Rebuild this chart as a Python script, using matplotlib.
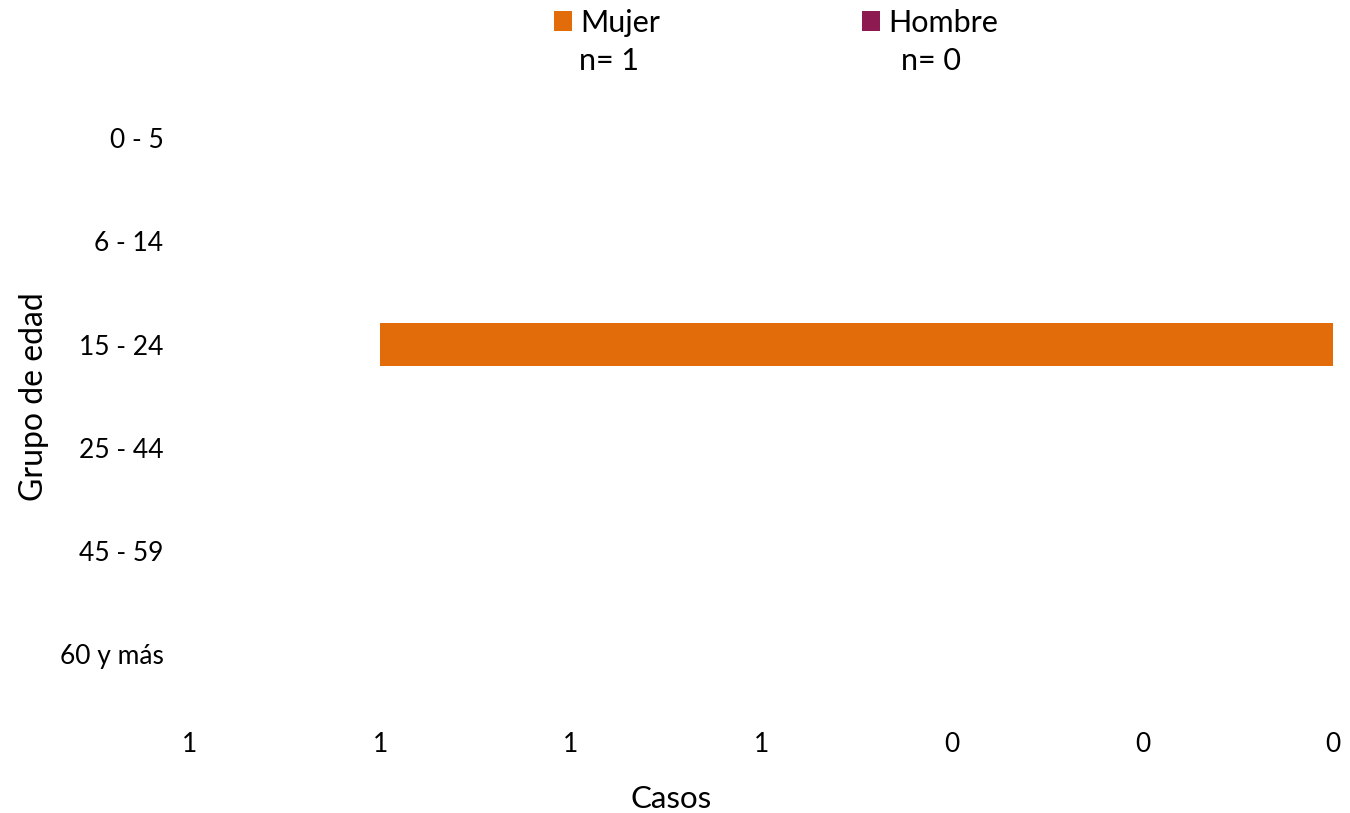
import matplotlib
matplotlib.use("Agg")
import matplotlib.pyplot as plt
import numpy as np

plt.rcParams['font.family'] = ['Lato', 'DejaVu Sans']

grupos = ["0 - 5", "6 - 14", "15 - 24", "25 - 44", "45 - 59", "60 y más"]
mujer = [0, 0, 1, 0, 0, 0]
hombre = [0, 0, 0, 0, 0, 0]
n_mujer = 1
n_hombre = 0
x_ticks = [-1.2, -1.0, -0.8, -0.6, -0.4, -0.2, 0.0]

color_mujer = "#E36C0A"
color_hombre = "#8E1A52"

fig = plt.figure(figsize=(13.5, 8.13), dpi=100)
ax = fig.add_axes([0.1407, 0.1316, 0.8467, 0.762])

y = np.arange(len(grupos))
b1 = ax.barh(y, [-v for v in mujer], height=0.41, color=color_mujer, label="Mujer")
b2 = ax.barh(y, hombre, height=0.41, color=color_hombre, label="Hombre")

ax.set_ylim(len(grupos) - 0.5, -0.5)
ax.set_xlim(-1.2, 0)
ax.set_yticks(y)
ax.set_yticklabels(grupos, fontsize=19)
ax.set_xticks(x_ticks)
ax.set_xticklabels([f"{abs(v):.0f}" for v in x_ticks], fontsize=19)
ax.tick_params(axis='y', length=0, pad=19)
ax.tick_params(axis='x', length=0, pad=19)
for s in ax.spines.values():
    s.set_visible(False)

ax.set_xlabel("Casos", fontsize=22.5)
ax.xaxis.set_label_coords(0.421, -0.128)
ax.set_ylabel("Grupo de edad", fontsize=23, labelpad=8)

fig.legend(handles=[b1, b2], labels=["Mujer", "Hombre"], ncol=2,
           loc="upper center", bbox_to_anchor=(0.5748, 1.023), frameon=False,
           fontsize=22, handlelength=0.59, handleheight=0.59, handletextpad=0.26,
           columnspacing=6.6)
fig.text(0.451, 0.925, f"n= {n_mujer}", fontsize=22, ha="center", va="center")
fig.text(0.690, 0.925, f"n= {n_hombre}", fontsize=22, ha="center", va="center")

fig.savefig("out.png", dpi=100)
